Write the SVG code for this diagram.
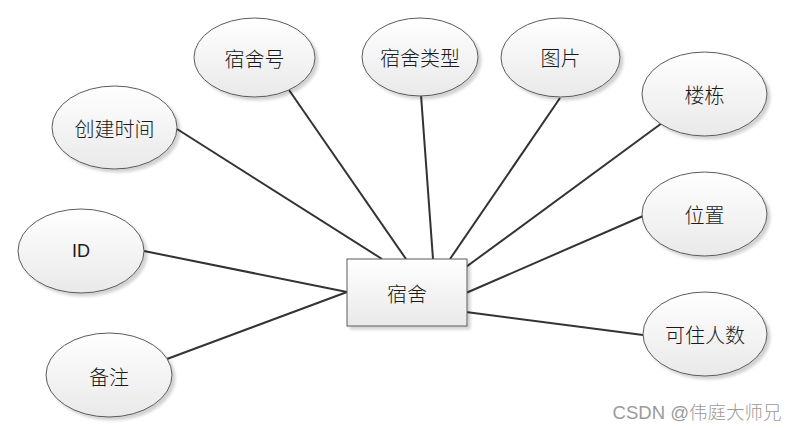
<svg xmlns="http://www.w3.org/2000/svg" width="798" height="429" viewBox="0 0 798 429">
<defs>
<linearGradient id="g" x1="0" y1="0" x2="0" y2="1">
<stop offset="0" stop-color="#ffffff"/>
<stop offset="1" stop-color="#e9e9e9"/>
</linearGradient>
<filter id="sh" x="-20%" y="-20%" width="150%" height="150%">
<feDropShadow dx="3" dy="3" stdDeviation="1.5" flood-color="#000" flood-opacity="0.18"/>
</filter>
<style>
.n{fill:url(#g);stroke:#5a5a5a;stroke-width:1;filter:url(#sh)}
.t{font-family:"Noto Sans CJK SC","Liberation Sans",sans-serif;font-size:20px;font-weight:300;fill:#1a1a1a;text-anchor:middle;dominant-baseline:central}
.c line{stroke:#333;stroke-width:2}
</style>
</defs>
<rect width="798" height="429" fill="#fff"/>
<g class="c" id="connectors">
<line x1="177" y1="129" x2="382" y2="259"/>
<line x1="289" y1="90" x2="406" y2="259"/>
<line x1="421" y1="95" x2="433" y2="259"/>
<line x1="560" y1="98" x2="450" y2="259"/>
<line x1="662" y1="123" x2="466" y2="267"/>
<line x1="643" y1="216" x2="466" y2="293"/>
<line x1="643" y1="335" x2="466" y2="312"/>
<line x1="144" y1="251" x2="347" y2="292"/>
<line x1="167" y1="359" x2="347" y2="292"/>
</g>
<g id="center"><rect class="n" x="347" y="259" width="120" height="67"/><text class="t" x="407" y="293">宿舍</text></g>
<g id="n-created"><ellipse class="n" cx="114.5" cy="127.5" rx="62.5" ry="41.5"/><text class="t" x="114.5" y="128">创建时间</text></g>
<g id="n-no"><ellipse class="n" cx="254.5" cy="57.5" rx="60.5" ry="39.5"/><text class="t" x="254.5" y="58">宿舍号</text></g>
<g id="n-type"><ellipse class="n" cx="420" cy="57" rx="58" ry="39"/><text class="t" x="420" y="57">宿舍类型</text></g>
<g id="n-pic"><ellipse class="n" cx="560.5" cy="57.5" rx="59.5" ry="39.5"/><text class="t" x="560.5" y="57">图片</text></g>
<g id="n-bld"><ellipse class="n" cx="704.5" cy="94" rx="62.5" ry="42"/><text class="t" x="704.5" y="94">楼栋</text></g>
<g id="n-pos"><ellipse class="n" cx="704.5" cy="214" rx="62.5" ry="42"/><text class="t" x="704.5" y="214">位置</text></g>
<g id="n-cap"><ellipse class="n" cx="705" cy="334" rx="62" ry="42"/><text class="t" x="705" y="334">可住人数</text></g>
<g id="n-id"><ellipse class="n" cx="81" cy="251" rx="63" ry="42"/><text class="t" x="81" y="251" style="font-family:'Liberation Sans',sans-serif;font-size:18px;font-weight:normal">ID</text></g>
<g id="n-note"><ellipse class="n" cx="109" cy="375" rx="63" ry="42"/><text class="t" x="109" y="376">备注</text></g>
<text x="697" y="412" style="font-family:'Liberation Sans','Noto Sans CJK SC',sans-serif;font-size:18.5px;font-weight:300;fill:#9a9a9a;text-anchor:middle;dominant-baseline:central">CSDN @伟庭大师兄</text>
</svg>
